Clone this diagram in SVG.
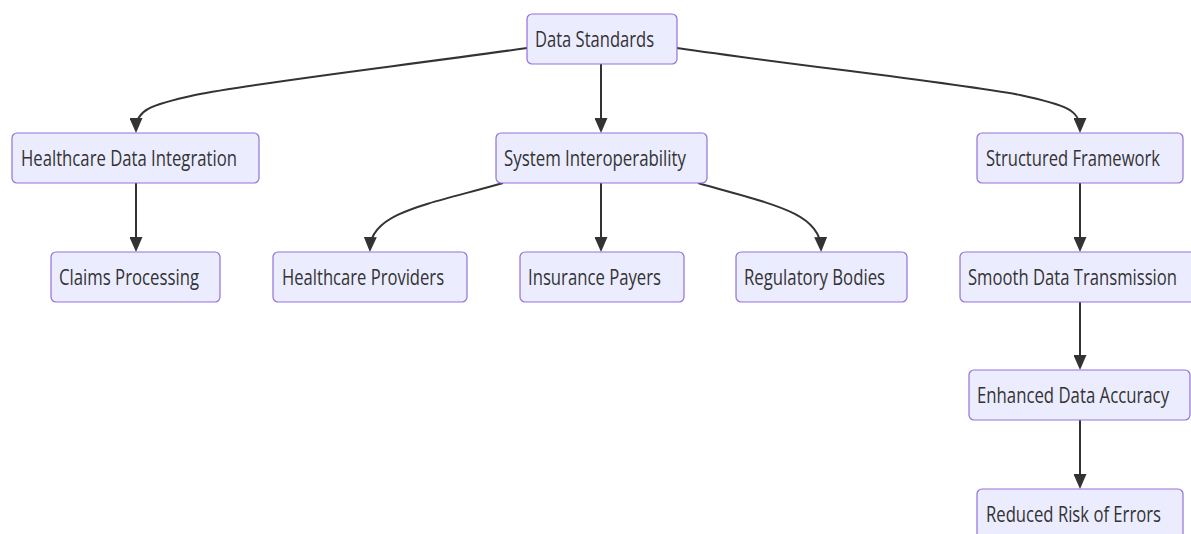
<svg xmlns="http://www.w3.org/2000/svg" width="1191" height="534" viewBox="0 0 1191 534">
  <style>
    .node rect { fill: #ECECFF; stroke: #9370DB; stroke-width: 1.2; }
    .node text { font-family: "Open Sans", "Liberation Sans", sans-serif; font-size: 21px; fill: #333333; }
    .edge { fill: none; stroke: #333333; stroke-width: 2; }
  </style>
  <defs>
    <!-- filled triangle head, tip sits 4px past the path end -->
    <marker id="arrow" viewBox="0 0 15 13" refX="11" refY="6.5" markerWidth="7.5" markerHeight="6.5" markerUnits="strokeWidth" orient="auto">
      <path d="M0,0 L15,6.5 L0,13 Z" fill="#333333"/>
    </marker>
  </defs>
  <rect width="1191" height="534" fill="#ffffff"/>

  <g id="connectors">
    <path class="edge" marker-end="url(#arrow)" d="M527,48 C400,66 260,82 195,95 C150,105 136,110 136,129"/>
    <path class="edge" marker-end="url(#arrow)" d="M601,64 L601,129"/>
    <path class="edge" marker-end="url(#arrow)" d="M677,48 C800,66 950,82 1020,95 C1066,105 1080,110 1080,129"/>
    <path class="edge" marker-end="url(#arrow)" d="M136,183 L136,248"/>
    <path class="edge" marker-end="url(#arrow)" d="M503,183 C430,204 371,212 370,248"/>
    <path class="edge" marker-end="url(#arrow)" d="M601,183 L601,248"/>
    <path class="edge" marker-end="url(#arrow)" d="M698,183 C770,204 820,212 821,248"/>
    <path class="edge" marker-end="url(#arrow)" d="M1080,183 L1080,248"/>
    <path class="edge" marker-end="url(#arrow)" d="M1080,302 L1080,366"/>
    <path class="edge" marker-end="url(#arrow)" d="M1080,420 L1080,485"/>
  </g>

  <!-- labels are set in a horizontally narrowed face (scale 0.84 on x) -->
  <g id="data-standards" class="node">
    <rect x="527" y="14" width="150" height="50" rx="5"/>
    <text transform="translate(535,47) scale(0.84,1)" textLength="141.7" lengthAdjust="spacingAndGlyphs">Data Standards</text>
  </g>
  <g id="healthcare-data-integration" class="node">
    <rect x="12" y="133" width="247" height="50" rx="5"/>
    <text transform="translate(21,166) scale(0.84,1)" textLength="257.1" lengthAdjust="spacingAndGlyphs">Healthcare Data Integration</text>
  </g>
  <g id="system-interoperability" class="node">
    <rect x="496" y="133" width="211" height="50" rx="5"/>
    <text transform="translate(504,166) scale(0.84,1)" textLength="216.7" lengthAdjust="spacingAndGlyphs">System Interoperability</text>
  </g>
  <g id="structured-framework" class="node">
    <rect x="977" y="133" width="206" height="50" rx="5"/>
    <text transform="translate(986,166) scale(0.84,1)" textLength="207.1" lengthAdjust="spacingAndGlyphs">Structured Framework</text>
  </g>
  <g id="claims-processing" class="node">
    <rect x="51" y="252" width="169" height="50" rx="5"/>
    <text transform="translate(59,285) scale(0.84,1)" textLength="166.7" lengthAdjust="spacingAndGlyphs">Claims Processing</text>
  </g>
  <g id="healthcare-providers" class="node">
    <rect x="273" y="252" width="194" height="50" rx="5"/>
    <text transform="translate(282,285) scale(0.84,1)" textLength="192.9" lengthAdjust="spacingAndGlyphs">Healthcare Providers</text>
  </g>
  <g id="insurance-payers" class="node">
    <rect x="520" y="252" width="164" height="50" rx="5"/>
    <text transform="translate(528,285) scale(0.84,1)" textLength="158.3" lengthAdjust="spacingAndGlyphs">Insurance Payers</text>
  </g>
  <g id="regulatory-bodies" class="node">
    <rect x="736" y="252" width="171" height="50" rx="5"/>
    <text transform="translate(744,285) scale(0.84,1)" textLength="167.9" lengthAdjust="spacingAndGlyphs">Regulatory Bodies</text>
  </g>
  <g id="smooth-data-transmission" class="node">
    <rect x="960" y="252" width="240" height="50" rx="5"/>
    <text transform="translate(968,285) scale(0.84,1)" textLength="248.8" lengthAdjust="spacingAndGlyphs">Smooth Data Transmission</text>
  </g>
  <g id="enhanced-data-accuracy" class="node">
    <rect x="969" y="370" width="221" height="50" rx="5"/>
    <text transform="translate(977,403) scale(0.84,1)" textLength="228.6" lengthAdjust="spacingAndGlyphs">Enhanced Data Accuracy</text>
  </g>
  <g id="reduced-risk-of-errors" class="node">
    <rect x="977" y="489" width="206" height="50" rx="5"/>
    <text transform="translate(986,522) scale(0.84,1)" textLength="208.3" lengthAdjust="spacingAndGlyphs">Reduced Risk of Errors</text>
  </g>
</svg>
